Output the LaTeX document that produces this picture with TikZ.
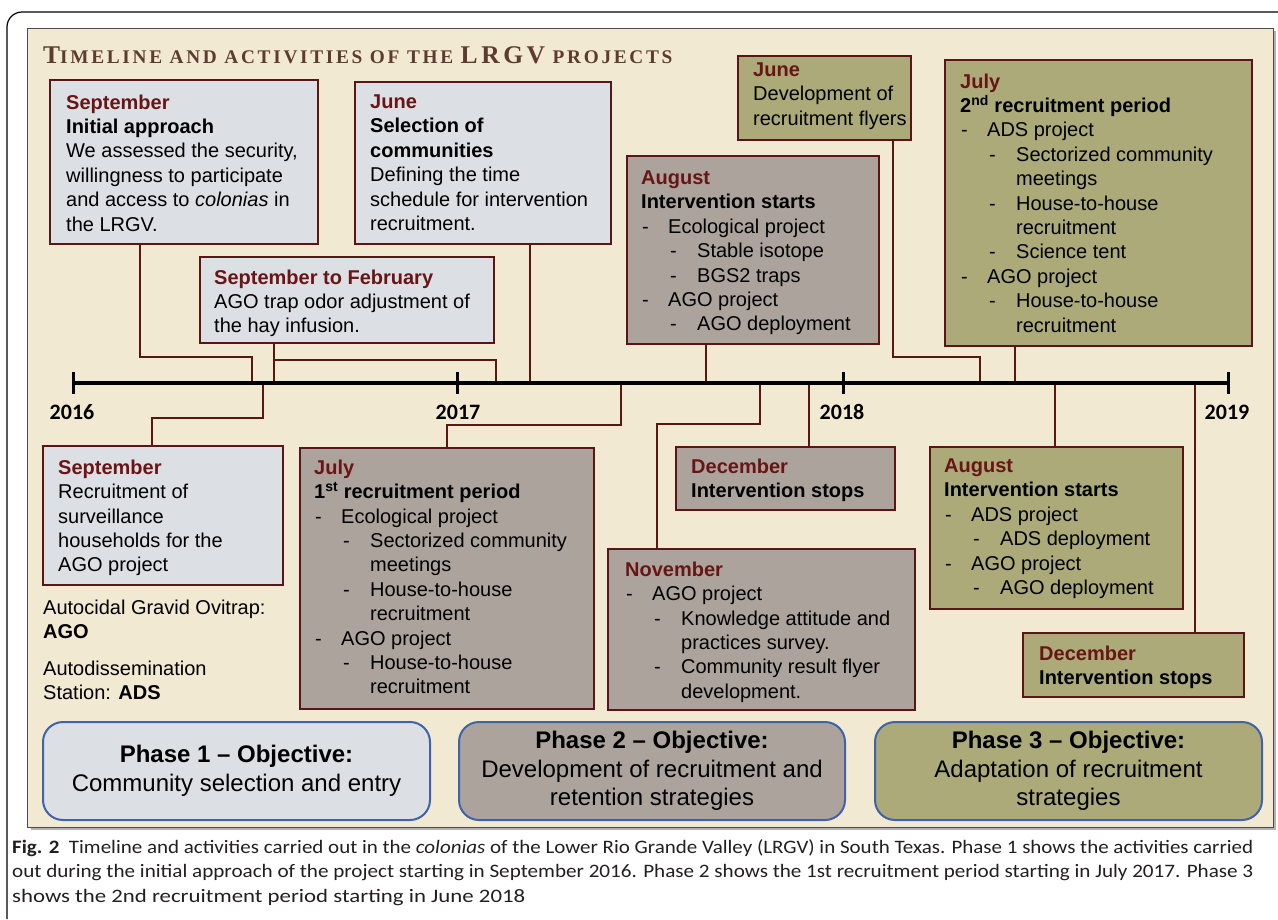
\documentclass[tikz,border=0pt]{standalone}
\usepackage{fontspec}
\usepackage{graphicx}
\setmainfont{Liberation Sans}
\newfontfamily\capfont{Carlito}
\newfontfamily\titlefont[LetterSpace=14]{Liberation Serif}
\usetikzlibrary{calc}
\definecolor{panel}{HTML}{F2E9D2}
\definecolor{lightfill}{HTML}{DCDFE4}
\definecolor{grayfill}{HTML}{ACA49C}
\definecolor{olivefill}{HTML}{ABAA78}
\definecolor{boxline}{HTML}{5A1616}
\definecolor{monthred}{HTML}{6A1515}
\definecolor{phaseblue}{HTML}{3F63A8}
\definecolor{titlecol}{HTML}{5C3B30}
\definecolor{captext}{HTML}{231F20}
\newcommand\mon[1]{{\color{monthred}\bfseries #1}}
\newcommand\La[1]{\makebox[27pt][l]{\hspace*{1pt}-}#1}
\newcommand\Lb[1]{\hspace*{29pt}\makebox[27pt][l]{-}#1}
\newcommand\Lc[1]{\hspace*{56pt}#1}
\newcommand\TBig[1]{{\fontsize{25.5}{25.5}\selectfont #1}}
\newcommand\TSm[1]{{\fontsize{19.3}{19.3}\selectfont #1}}
\tikzset{
 box/.style={draw=boxline, line width=2pt, anchor=north west, inner sep=0pt, outer sep=0pt},
 lightbox/.style={box, fill=lightfill},
 graybox/.style={box, fill=grayfill},
 olivebox/.style={box, fill=olivefill},
 txt/.style={anchor=north west, inner sep=0pt, align=left, font=\fontsize{20}{24.4}\selectfont, text=black},
 conn/.style={draw=boxline, line width=1.8pt},
 phase/.style={draw=phaseblue, line width=2pt, rounded corners=20pt, anchor=north west, inner sep=0pt, outer sep=0pt, align=center, font=\fontsize{24}{28.5}\selectfont},
 year/.style={inner sep=0pt, font=\capfont\bfseries\fontsize{22}{22}\selectfont},
 captxt/.style={anchor=west, inner sep=0pt, font=\capfont\fontsize{19}{19}\selectfont, text=captext},
}
\begin{document}
\begin{tikzpicture}[x=1pt,y=-1pt]
\useasboundingbox (0,0) rectangle (1278,919);
\fill[white] (0,0) rectangle (1278,919);
% outer frame
\draw[line width=1.2pt, rounded corners=15pt] (7,919) -- (7,12) -- (1278,12);
% panel
\fill[gray!60] (31,31) rectangle (1276,830);
\node[draw=black!70, line width=0.8pt, fill=panel, anchor=north west, minimum width=1246pt, minimum height=799pt, inner sep=0pt, outer sep=0pt] (panel) at (27,28) {};
% title
\node[anchor=base west, inner sep=0pt, text=titlecol, font=\titlefont\bfseries] (title) at (43,63) {\TBig{T}\TSm{IMELINE AND ACTIVITIES OF THE }\TBig{LRGV}\TSm{ PROJECTS}};

% boxes
\node[lightbox, minimum width=268pt, minimum height=164pt] (b1) at (50,80) {};
\node[lightbox, minimum width=256pt, minimum height=162pt] (b2) at (355,82) {};
\node[lightbox, minimum width=294pt, minimum height=86pt] (b3) at (200,257) {};
\node[graybox, minimum width=252pt, minimum height=188pt] (b4) at (627,156) {};
\node[olivebox, minimum width=173pt, minimum height=84pt] (b5) at (738,56) {};
\node[olivebox, minimum width=307pt, minimum height=286pt] (b6) at (945,60) {};
\node[lightbox, minimum width=240pt, minimum height=139pt] (b7) at (43,446) {};
\node[graybox, minimum width=294pt, minimum height=261pt] (b8) at (300,448) {};
\node[graybox, minimum width=219pt, minimum height=63pt] (b9) at (676,447) {};
\node[graybox, minimum width=307pt, minimum height=161pt] (b10) at (608,549) {};
\node[olivebox, minimum width=253pt, minimum height=162pt] (b11) at (930,447) {};
\node[olivebox, minimum width=221pt, minimum height=64pt] (b12) at (1023,633) {};

% texts
\node[txt] (b1t) at (66,94.5) {\mon{September}\\\textbf{Initial approach}\\We assessed the security,\\willingness to participate\\and access to \textit{colonias} in\\the LRGV.};
\node[txt] (b2t) at (370,94.5) {\mon{June}\\\textbf{Selection of}\\\textbf{communities}\\Defining the time\\schedule for intervention\\recruitment.};
\node[txt] (b3t) at (214,269.5) {\mon{September to February}\\AGO trap odor adjustment of\\the hay infusion.};
\node[txt] (b4t) at (641,170.5) {\mon{August}\\\textbf{Intervention starts}\\\La{Ecological project}\\\Lb{Stable isotope}\\\Lb{BGS2 traps}\\\La{AGO project}\\\Lb{AGO deployment}};
\node[txt] (b5t) at (753,62.5) {\mon{June}\\Development of\\recruitment flyers};
\node[txt] (b6t) at (960,73.5) {\mon{July}\\\textbf{2\textsuperscript{nd} recruitment period}\\\La{ADS project}\\\Lb{Sectorized community}\\\Lc{meetings}\\\Lb{House-to-house}\\\Lc{recruitment}\\\Lb{Science tent}\\\La{AGO project}\\\Lb{House-to-house}\\\Lc{recruitment}};
\node[txt] (b7t) at (58,459.5) {\mon{September}\\Recruitment of\\surveillance\\households for the\\AGO project};
\node[txt] (leg1) at (43,599.5) {Autocidal Gravid Ovitrap:\\\textbf{AGO}};
\node[txt] (leg2) at (43,660.5) {Autodissemination\\Station: \textbf{ADS}};
\node[txt] (b8t) at (314,459.5) {\mon{July}\\\textbf{1\textsuperscript{st} recruitment period}\\\La{Ecological project}\\\Lb{Sectorized community}\\\Lc{meetings}\\\Lb{House-to-house}\\\Lc{recruitment}\\\La{AGO project}\\\Lb{House-to-house}\\\Lc{recruitment}};
\node[txt] (b9t) at (691,458.5) {\mon{December}\\\textbf{Intervention stops}};
\node[txt] (b10t) at (625,561.5) {\mon{November}\\\La{AGO project}\\\Lb{Knowledge attitude and}\\\Lc{practices survey.}\\\Lb{Community result flyer}\\\Lc{development.}};
\node[txt] (b11t) at (944,458.5) {\mon{August}\\\textbf{Intervention starts}\\\La{ADS project}\\\Lb{ADS deployment}\\\La{AGO project}\\\Lb{AGO deployment}};
\node[txt] (b12t) at (1039,645.5) {\mon{December}\\\textbf{Intervention stops}};

% timeline coordinates
\coordinate (t1) at (252,383);
\coordinate (t2) at (274,383);
\coordinate (t3) at (496,383);
\coordinate (t4) at (530,383);
\coordinate (t5) at (263,383);
\coordinate (t6) at (621,383);
\coordinate (t7) at (706,383);
\coordinate (t8) at (760,383);
\coordinate (t9) at (809,383);
\coordinate (t10) at (980,383);
\coordinate (t11) at (1015,383);
\coordinate (t12) at (1055,383);
\coordinate (t13) at (1195,383);

% connectors
\draw[conn] ([xshift=90pt]b1.south west) |- (252,357) -- (t1);
\draw[conn] ([xshift=74pt]b3.south west) -- (t2);
\coordinate (j2) at (274,360);
\draw[conn] (j2) -| (t3);
\draw[conn] ([xshift=175pt]b2.south west) -- (t4);
\draw[conn] (t5) -- (263,418) -| ([xshift=109pt]b7.north west);
\draw[conn] (t6) -- (621,425) -| ([xshift=147pt]b8.north west);
\draw[conn] ([xshift=79pt]b4.south west) -- (t7);
\draw[conn] (t8) -- (760,424) -| ([xshift=49pt]b10.north west);
\draw[conn] (t9) -- ([xshift=133pt]b9.north west);
\draw[conn] ([xshift=155pt]b5.south west) |- (980,357) -- (t10);
\draw[conn] ([xshift=70pt]b6.south west) -- (t11);
\draw[conn] (t12) -- ([xshift=125pt]b11.north west);
\draw[conn] (t13) -- ([xshift=172pt]b12.north west);

% timeline
\coordinate (y16) at (73,383);
\coordinate (y17) at (457,383);
\coordinate (y18) at (843,383);
\coordinate (y19) at (1228,383);
\draw[line width=4pt] (y16) -- (y19);
\foreach \p in {y16,y17,y18,y19} \draw[line width=3pt] ([yshift=11pt]\p) -- ([yshift=-11pt]\p);
\node[year] (l16) at (72,412) {2016};
\node[year] (l17) at (458,412) {2017};
\node[year] (l18) at (842,412) {2018};
\node[year] (l19) at (1227,412) {2019};

% phases
\node[phase, fill=lightfill, minimum width=387pt, minimum height=98pt] (p1) at (43,722) {\textbf{Phase 1 – Objective:}\\Community selection and entry};
\node[phase, fill=grayfill, minimum width=386pt, minimum height=98pt] (p2) at (459,722) {\textbf{Phase 2 – Objective:}\\Development of recruitment and\\retention strategies};
\node[phase, fill=olivefill, minimum width=387pt, minimum height=98pt] (p3) at (875,722) {\textbf{Phase 3 – Objective:}\\Adaptation of recruitment\\strategies};

% caption
\node[captxt] (c1) at (12,848) {\resizebox{1241pt}{\height}{\textbf{Fig. 2}\ \ Timeline and activities carried out in the \textit{colonias} of the Lower Rio Grande Valley (LRGV) in South Texas. Phase 1 shows the activities carried}};
\node[captxt] (c2) at (12,873) {\resizebox{1241pt}{\height}{out during the initial approach of the project starting in September 2016. Phase 2 shows the 1st recruitment period starting in July 2017. Phase 3}};
\node[captxt] (c3) at (12,898) {\resizebox{513pt}{\height}{shows the 2nd recruitment period starting in June 2018}};
\end{tikzpicture}
\end{document}
